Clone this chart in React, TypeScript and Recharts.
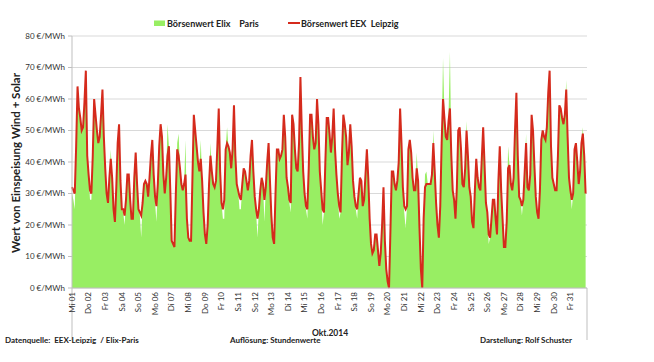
import React from 'react';
import { ComposedChart, Area, Line, XAxis, YAxis, CartesianGrid } from 'recharts';

// Day labels (one category label per day, Oct 2014)
const dayLabels = ['Mi 01','Do 02','Fr 03','Sa 04','So 05','Mo 06','Di 07','Mi 08','Do 09','Fr 10','Sa 11','So 12','Mo 13','Di 14','Mi 15','Do 16','Fr 17','Sa 18','So 19','Mo 20','Di 21','Mi 22','Do 23','Fr 24','Sa 25','So 26','Mo 27','Di 28','Mi 29','Do 30','Fr 31'];

// sampled every 2 hours (h0, h2, ... h22), one row per day
const HOUR_STEP = 2;

// Börsenwert EEX Leipzig (€/MWh)
const eexLeipzig = [
  32, 31, 30, 45, 64, 57, 54, 50, 51, 59, 69, 42,
  36, 31, 30, 42, 60, 55, 50, 46, 48, 55, 63, 48,
  38, 30, 27, 35, 41, 35, 25, 21, 32, 46, 52, 34,
  25, 25, 23, 28, 36, 36, 28, 22, 22, 35, 43, 33,
  25, 24, 23, 27, 33, 34, 33, 29, 35, 42, 47, 36,
  29, 26, 33, 45, 52, 48, 36, 30, 35, 42, 45, 31,
  15, 14, 13, 30, 44, 42, 38, 33, 31, 33, 36, 22,
  16, 15, 15, 35, 55, 50, 45, 40, 37, 41, 34, 24,
  17, 14, 20, 33, 42, 37, 33, 32, 34, 45, 57, 37,
  27, 25, 28, 44, 46, 45, 43, 38, 44, 58, 42, 33,
  31, 29, 28, 33, 38, 37, 34, 31, 34, 42, 47, 37,
  29, 25, 22, 25, 31, 35, 33, 28, 32, 40, 46, 34,
  23, 16, 14, 30, 44, 44, 41, 42, 44, 55, 48, 35,
  32, 28, 27, 55, 52, 44, 38, 37, 46, 67, 50, 37,
  30, 26, 25, 38, 55, 55, 48, 44, 46, 60, 52, 37,
  31, 25, 24, 40, 54, 54, 49, 43, 48, 57, 44, 36,
  30, 26, 24, 42, 55, 52, 48, 39, 43, 52, 45, 34,
  29, 26, 25, 30, 35, 34, 26, 28, 36, 44, 35, 22,
  14, 11, 12, 17, 17, 12, 7, 11, 20, 32, 15, 6,
  2, 0, 18, 37, 37, 33, 31, 34, 40, 57, 46, 32,
  26, 25, 26, 44, 47, 43, 35, 31, 31, 38, 34, 19,
  6, 0, 22, 32, 33, 33, 33, 33, 36, 46, 37, 27,
  20, 16, 26, 46, 60, 54, 48, 47, 53, 57, 42, 31,
  28, 22, 32, 50, 51, 44, 33, 32, 38, 50, 42, 32,
  29, 21, 19, 31, 41, 35, 32, 31, 41, 51, 39, 27,
  24, 17, 16, 22, 28, 28, 22, 17, 34, 45, 31, 22,
  13, 13, 21, 38, 39, 33, 31, 35, 50, 62, 42, 29,
  28, 26, 28, 37, 46, 32, 31, 36, 55, 50, 39, 29,
  24, 22, 31, 47, 50, 48, 47, 51, 62, 69, 45, 35,
  33, 31, 31, 42, 58, 57, 54, 52, 55, 63, 48, 35,
  31, 28, 30, 44, 46, 40, 33, 37, 46, 49, 42, 30,
];

// Börsenwert Elix Paris (€/MWh)
const elixParis = [
  30, 28, 25, 45, 64, 57, 54, 50, 51, 59, 69, 42,
  36, 28, 28, 42, 60, 55, 50, 46, 48, 55, 63, 48,
  38, 30, 27, 35, 44, 35, 25, 21, 32, 46, 52, 34,
  25, 24, 20, 28, 36, 36, 28, 22, 22, 35, 43, 33,
  25, 23, 16, 27, 33, 34, 33, 29, 35, 42, 47, 36,
  27, 21, 33, 45, 52, 48, 36, 30, 35, 52, 45, 31,
  15, 14, 13, 30, 46, 49, 38, 33, 31, 33, 47, 22,
  16, 15, 15, 35, 55, 50, 45, 40, 37, 47, 34, 24,
  17, 14, 20, 33, 46, 37, 33, 32, 34, 45, 57, 37,
  27, 22, 22, 44, 51, 45, 43, 38, 44, 58, 42, 33,
  31, 25, 25, 33, 38, 37, 34, 31, 34, 42, 47, 37,
  29, 24, 16, 25, 31, 35, 33, 21, 32, 40, 46, 34,
  23, 16, 14, 30, 44, 44, 41, 42, 44, 55, 48, 35,
  32, 27, 24, 55, 52, 44, 38, 37, 46, 67, 50, 37,
  30, 25, 22, 38, 55, 55, 48, 44, 46, 60, 52, 37,
  31, 20, 24, 40, 54, 54, 49, 43, 48, 57, 44, 36,
  30, 22, 24, 42, 55, 52, 48, 39, 43, 52, 45, 34,
  29, 25, 22, 30, 35, 34, 26, 28, 36, 44, 35, 22,
  14, 11, 12, 17, 17, 12, 7, 11, 20, 32, 15, 6,
  2, 0, 18, 37, 37, 33, 31, 34, 40, 57, 46, 32,
  24, 19, 26, 44, 47, 43, 35, 31, 31, 43, 34, 19,
  6, 0, 22, 36, 37, 33, 33, 33, 36, 50, 37, 27,
  20, 16, 26, 48, 73, 56, 48, 47, 55, 75, 44, 31,
  28, 22, 32, 50, 51, 44, 33, 32, 38, 53, 42, 32,
  29, 21, 19, 31, 41, 35, 32, 31, 41, 51, 39, 27,
  24, 14, 16, 22, 28, 28, 22, 17, 34, 45, 31, 22,
  13, 13, 21, 45, 39, 33, 31, 35, 50, 62, 42, 29,
  28, 23, 28, 37, 49, 32, 31, 36, 55, 50, 39, 29,
  24, 22, 31, 47, 50, 48, 47, 51, 62, 69, 45, 35,
  33, 31, 31, 42, 58, 57, 54, 52, 55, 66, 48, 35,
  31, 25, 30, 44, 46, 40, 33, 37, 46, 51, 42, 30,
];

const yTicks = [0, 10, 20, 30, 40, 50, 60, 70, 80];
const yUnit = '€/MWh';
const legendElix = 'Börsenwert Elix    Paris';
const legendEex = 'Börsenwert EEX  Leipzig';
const yTitle = 'Wert von Einspeisung Wind + Solar';
const groupLabel = 'Okt.2014';
const footerLeft = 'Datenquelle:  EEX-Leipzig  / Elix-Paris';
const footerMid = 'Auflösung: Stundenwerte';
const footerRight = 'Darstellung: Rolf Schuster';

const GREEN = '#98EE63';
const RED = '#D52A1C';
const FONT = 'Lato, "Open Sans", sans-serif';

const DayTick = (props: any) => {
  const { x, y, payload } = props;
  const d = Math.round(payload.value / 24);
  const label = dayLabels[d];
  const edge = d === 0 || d === dayLabels.length;
  return (
    <g>
      {edge && <line x1={x} x2={x} y1={y - 4} y2={y + 48} stroke="#bfbfbf" strokeWidth={1} />}
      {label && (
        <text
          transform={`translate(${x},${y}) rotate(-90)`}
          textAnchor="end"
          dy="0.35em"
          fontSize={8}
          fill="#333"
          fontFamily={FONT}
        >
          {label}
        </text>
      )}
    </g>
  );
};

const ValueTick = (props: any) => {
  const { x, y, payload } = props;
  return (
    <text x={x} y={y} dy="0.35em" textAnchor="end" fontSize={8} fill="#333" fontFamily={FONT} style={{ whiteSpace: 'pre' }}>
      {`${payload.value} ${yUnit}`}
    </text>
  );
};

export default function App() {
  const data = eexLeipzig.map((v, i) => ({ hour: i * HOUR_STEP, eex: v, elix: elixParis[i] }));
  const total = dayLabels.length * 24;
  const ticks = [...dayLabels.map((_, d) => d * 24), total];
  return (
    <div style={{ position: 'absolute', left: 0, top: 0, width: 654, height: 362, background: '#fff' }}>
      <ComposedChart width={654} height={362} data={data} margin={{ top: 36, right: 67, bottom: 4, left: 10 }}>
        <CartesianGrid vertical={false} stroke="#d9d9d9" />
        <XAxis
          dataKey="hour"
          type="number"
          domain={[0, total]}
          ticks={ticks}
          interval={0}
          tick={<DayTick />}
          tickLine={false}
          tickSize={0}
          tickMargin={4}
          axisLine={{ stroke: '#bfbfbf' }}
          height={70}
        />
        <YAxis
          domain={[0, 80]}
          ticks={yTicks}
          interval={0}
          width={62}
          tick={<ValueTick />}
          tickLine={{ stroke: '#bfbfbf' }}
          tickSize={4}
          tickMargin={3}
          axisLine={{ stroke: '#bfbfbf' }}
        />
        <Area dataKey="elix" type="linear" stroke="none" fill={GREEN} fillOpacity={1} isAnimationActive={false} />
        <Line dataKey="eex" type="linear" stroke={RED} strokeWidth={2} dot={false} isAnimationActive={false} />
      </ComposedChart>
      <svg width={654} height={362} style={{ position: 'absolute', left: 0, top: 0, pointerEvents: 'none' }} fontFamily={FONT}>
        <rect x={154} y={20.5} width={11} height={5.5} fill={GREEN} />
        <text x={167} y={26.5} fontSize={9} fontWeight={700} fill="#222" style={{ whiteSpace: 'pre' }}>{legendElix}</text>
        <line x1={288} x2={300} y1={23} y2={23} stroke={RED} strokeWidth={2} />
        <text x={301} y={26.5} fontSize={9} fontWeight={700} fill="#222" style={{ whiteSpace: 'pre' }}>{legendEex}</text>
        <text transform="translate(19.5,163) rotate(-90)" textAnchor="middle" fontSize={11.5} fontWeight={700} fill="#222">{yTitle}</text>
        <text x={330} y={335.5} textAnchor="middle" fontSize={8.5} fontWeight={700} fill="#222">{groupLabel}</text>
        <text x={5} y={342.5} fontSize={8} fontWeight={700} fill="#222" style={{ whiteSpace: 'pre' }}>{footerLeft}</text>
        <text x={230} y={342.5} fontSize={8} fontWeight={700} fill="#222">{footerMid}</text>
        <text x={480} y={342.5} fontSize={8} fontWeight={700} fill="#222">{footerRight}</text>
      </svg>
    </div>
  );
}
